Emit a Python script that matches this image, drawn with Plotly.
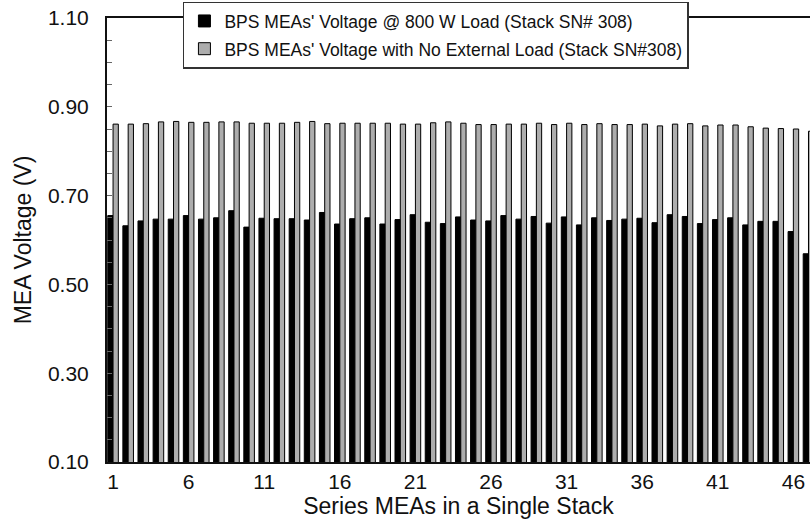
import plotly.graph_objects as go

mea = list(range(1, 48))
load_800w = [0.655, 0.632, 0.643, 0.647, 0.647, 0.655, 0.647, 0.650, 0.666, 0.629,
             0.649, 0.648, 0.648, 0.645, 0.662, 0.636, 0.648, 0.650, 0.636, 0.646,
             0.657, 0.640, 0.637, 0.652, 0.645, 0.643, 0.655, 0.647, 0.653, 0.638,
             0.652, 0.634, 0.650, 0.644, 0.647, 0.649, 0.639, 0.657, 0.653, 0.637,
             0.646, 0.650, 0.634, 0.642, 0.642, 0.619, 0.569]
no_load = [0.861, 0.861, 0.862, 0.866, 0.867, 0.865, 0.865, 0.866, 0.866, 0.863,
           0.863, 0.863, 0.865, 0.867, 0.862, 0.863, 0.863, 0.863, 0.863, 0.861,
           0.861, 0.864, 0.866, 0.863, 0.860, 0.860, 0.861, 0.861, 0.863, 0.860,
           0.863, 0.860, 0.862, 0.860, 0.860, 0.861, 0.857, 0.861, 0.862, 0.857,
           0.859, 0.859, 0.855, 0.852, 0.851, 0.850, 0.845]
x_ticks = [1, 6, 11, 16, 21, 26, 31, 36, 41, 46]
y_ticks = [0.10, 0.30, 0.50, 0.70, 0.90, 1.10]
y_tick_labels = ["0.10", "0.30", "0.50", "0.70", "0.90", "1.10"]

FONT = "Liberation Sans, Arial, sans-serif"

fig = go.Figure()
fig.add_trace(go.Bar(
    x=mea, y=load_800w,
    name="BPS MEAs' Voltage @ 800 W Load (Stack SN# 308)",
    marker=dict(color="#000000", line=dict(color="#000000", width=1)),
    legendgroup="a",
))
fig.add_trace(go.Bar(
    x=mea, y=no_load,
    name="BPS MEAs' Voltage with No External Load (Stack SN#308)",
    marker=dict(color="#adadad", line=dict(color="#000000", width=1)),
    legendgroup="b",
))

fig.update_layout(
    width=810, height=525,
    margin=dict(l=107, r=0, t=18, b=63, autoexpand=False),
    paper_bgcolor="white", plot_bgcolor="white",
    barmode="group", bargap=0.3, bargroupgap=0,
    font=dict(family=FONT, color="#111111"),
    showlegend=True,
    legend=dict(
        x=0.108, y=1.037, xanchor="left", yanchor="top",
        bgcolor="white", bordercolor="#333333", borderwidth=1.5,
        font=dict(family=FONT, size=17.5, color="#111111"),
        traceorder="grouped", tracegroupgap=2,
    ),
    xaxis=dict(
        range=[0.6, 47.1], automargin=False,
        tickmode="array", tickvals=x_ticks,
        ticks="", showgrid=False, zeroline=False,
        showline=True, linecolor="#111111", linewidth=2, mirror=True,
        tickfont=dict(family=FONT, size=21, color="#111111"),
        title=dict(text="Series MEAs in a Single Stack",
                   font=dict(family=FONT, size=23, color="#111111"), standoff=4),
    ),
    yaxis=dict(
        range=[0.10, 1.10], automargin=False,
        tickmode="array", tickvals=y_ticks, ticktext=y_tick_labels,
        ticks="inside", ticklen=5, tickcolor="#666666", tickwidth=1,
        minor=dict(dtick=0.05, tick0=0.10, ticks="inside", ticklen=5,
                   tickcolor="#666666", tickwidth=1),
        showgrid=False, zeroline=False,
        showline=True, linecolor="#111111", linewidth=2, mirror=False,
        tickfont=dict(family=FONT, size=21, color="#111111"),
        ticklabelstandoff=12,
        title=dict(text="MEA Voltage (V)",
                   font=dict(family=FONT, size=23, color="#111111"), standoff=10),
    ),
)

fig.write_html("out.html",
               config={"displayModeBar": False},
               post_script="document.body.style.margin='0';document.body.style.padding='0';")
